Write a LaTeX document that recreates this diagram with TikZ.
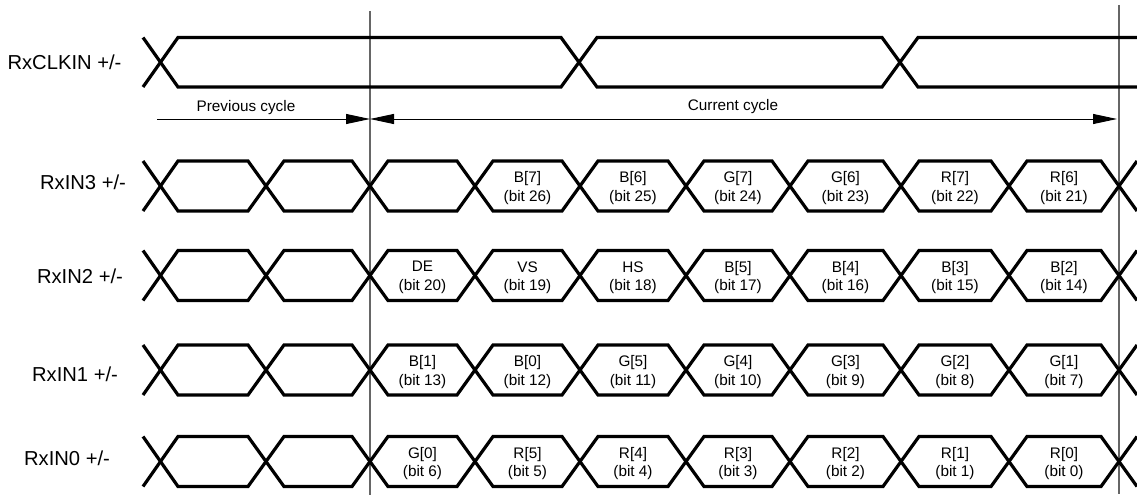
\documentclass[tikz,border=0pt]{standalone}
\usepackage{fontspec}
\setmainfont{Liberation Sans}
\usetikzlibrary{arrows.meta}
\tikzset{
  wave/.style={line width=3.2pt, line join=miter},
  marker/.style={draw=black!60, line width=1.2pt},
  span/.style={line width=0.9pt},
  tipR/.style={-{Triangle[length=24pt,width=10pt]}},
  tipLR/.style={{Triangle[length=24pt,width=10pt]}-{Triangle[length=24pt,width=10pt]}},
  lbl/.style={font=\fontsize{20.2}{24}\selectfont, inner sep=0pt, anchor=base},
  small/.style={font=\fontsize{15.3}{18}\selectfont, inner sep=0pt, anchor=base},
  cell/.style={font=\fontsize{15.3}{18.4}\selectfont, align=center, inner sep=0pt},
}
% data row: #1 = centre y
\newcommand\datawave[1]{%
  \foreach \sg in {1,-1}{%
    \draw[wave] (143,#1-25*\sg) -- (178,#1+25*\sg)
      \foreach \x [count=\i from 2,
                   evaluate=\i as \ya using {#1+25*\sg*(1-2*mod(\i,2))},
                   evaluate=\i as \yb using {#1-25*\sg*(1-2*mod(\i,2))}]
        in {266,370,475,580,686,790,901,1009,1119}
        { -- (\x-18,\ya) -- (\x+18,\yb) };
  }%
}
\begin{document}
\begin{tikzpicture}[x=1pt,y=-1pt]
\useasboundingbox (0,0) rectangle (1137,495);

% markers
\coordinate (v1t) at (370,11);
\coordinate (v1b) at (370,495);
\coordinate (v2t) at (1119,5);
\coordinate (v2b) at (1119,494);
\draw[marker] (v1t) -- (v1b);
\draw[marker] (v2t) -- (v2b);

% clock
\draw[wave] (143,37.5) -- (178,87) -- (561,87) -- (597,37.5) -- (882,37.5) -- (918,87) -- (1137,87);
\draw[wave] (143,87) -- (178,37.5) -- (561,37.5) -- (597,87) -- (882,87) -- (918,37.5) -- (1137,37.5);

% data rows
\datawave{186}
\datawave{275.5}
\datawave{370}
\datawave{461.5}

% labels
\node[lbl] (clk) at (64.5,70) {RxCLKIN +/-};
\node[lbl] (l3) at (83,189) {RxIN3 +/-};
\node[lbl] (l2) at (80,283) {RxIN2 +/-};
\node[lbl] (l1) at (75,381.7) {RxIN1 +/-};
\node[lbl] (l0) at (67,465) {RxIN0 +/-};

% cycle arrows
\coordinate (pstart) at (157,119);
\coordinate (mid) at (370,119);
\coordinate (cend) at (1117,119);
\draw[span,tipR] (pstart) -- (mid);
\draw[span,tipLR] (mid) -- (cend);
\node[small] (prev) at (246,111) {Previous cycle};
\node[small] (cur) at (733,110.7) {Current cycle};

% cell texts
\foreach \xc/\t/\b [count=\k] in {527.5/B[7]/26,633/B[6]/25,738/G[7]/24,845.5/G[6]/23,955/R[7]/22,1064/R[6]/21}
  \node[cell] (r3c\k) at (\xc,188) {\t\\(bit \b)};
\foreach \xc/\t/\b [count=\k] in {422.5/DE/20,527.5/VS/19,633/HS/18,738/B[5]/17,845.5/B[4]/16,955/B[3]/15,1064/B[2]/14}
  \node[cell] (r2c\k) at (\xc,277.5) {\t\\(bit \b)};
\foreach \xc/\t/\b [count=\k] in {422.5/B[1]/13,527.5/B[0]/12,633/G[5]/11,738/G[4]/10,845.5/G[3]/9,955/G[2]/8,1064/G[1]/7}
  \node[cell] (r1c\k) at (\xc,372) {\t\\(bit \b)};
\foreach \xc/\t/\b [count=\k] in {422.5/G[0]/6,527.5/R[5]/5,633/R[4]/4,738/R[3]/3,845.5/R[2]/2,955/R[1]/1,1064/R[0]/0}
  \node[cell] (r0c\k) at (\xc,463.5) {\t\\(bit \b)};
\end{tikzpicture}
\end{document}
